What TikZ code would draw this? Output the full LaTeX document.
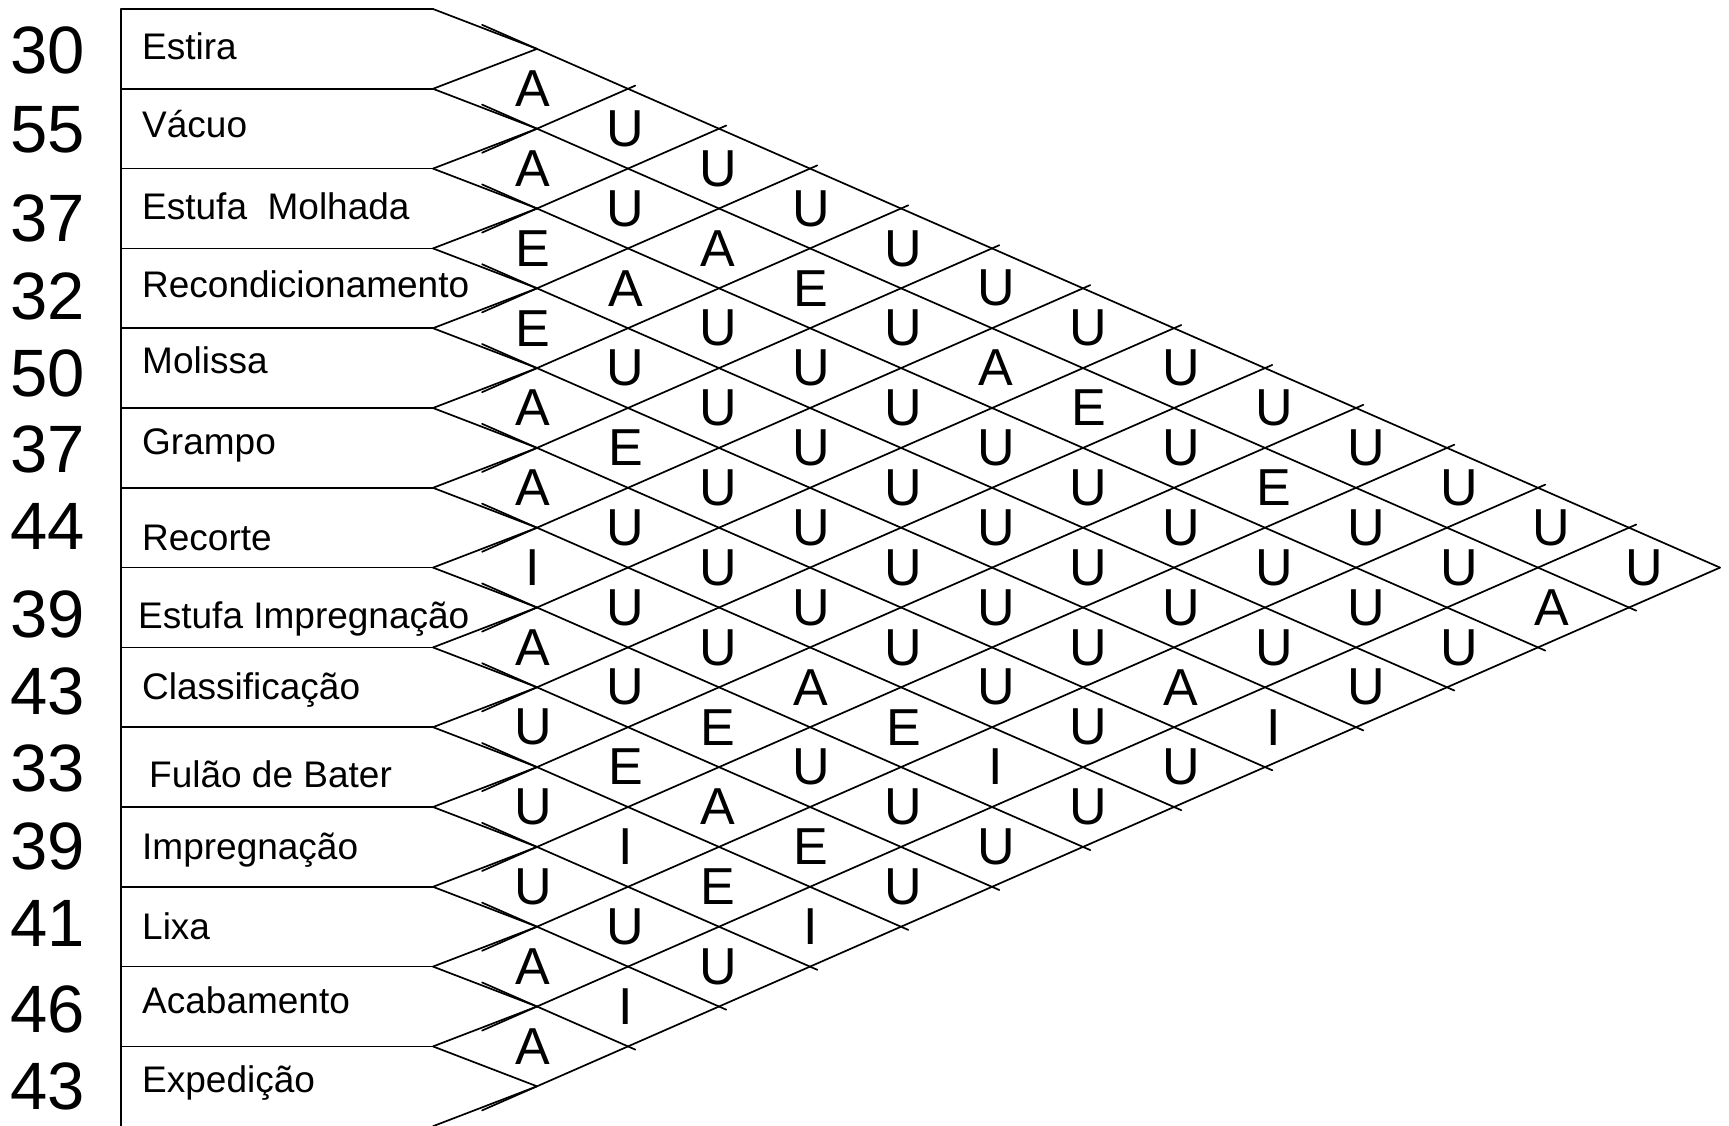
\documentclass[tikz,border=0pt]{standalone}
\usepackage{fontspec}
\setmainfont{Liberation Sans}
\begin{document}
\begin{tikzpicture}[x=1pt,y=-1pt,
  ln/.style={line width=1.7pt, line cap=round, line join=round},
  num/.style={font=\fontsize{67}{67}\selectfont, anchor=center, inner sep=0pt},
  lab/.style={font=\fontsize{37}{37}\selectfont, anchor=base west, inner sep=0pt},
  rel/.style={font=\fontsize{52}{52}\selectfont, anchor=center, inner sep=0pt}]
\useasboundingbox (0,0) rectangle (1729,1126);
\def\T{537}\def\B{433}\def\W{91}\def\H{79.8}\def\Y{9}\def\L{121}
% row boundaries, box corners, tips
\foreach \k in {0,...,14}{
  \coordinate (c\k) at (\B,{\Y+\H*\k});
  \coordinate (l\k) at (\L,{\Y+\H*\k});
}
\foreach \i in {0,...,13}{
  \coordinate (t\i) at (\T,{\Y+\H*(\i+0.5)});
}
% grid end points on bottom edge (e) and top edge (u)
\foreach \i in {0,...,13}{
  \pgfmathsetmacro\ex{\T+(13-\i)*\W}
  \pgfmathsetmacro\ey{\Y+\H*((\i+13)/2+0.5)}
  \coordinate (e\i) at (\ex,\ey);
  \pgfmathsetmacro\ux{\T+\i*\W}
  \pgfmathsetmacro\uy{\Y+\H*(\i/2+0.5)}
  \coordinate (u\i) at (\ux,\uy);
}
% left frame
\draw[ln] (l0) -- (l14);
\foreach \k in {0,...,13}{ \draw[ln] (l\k) -- (c\k); }
% pointed ends of the department boxes
\foreach \i in {0,...,13}{
  \pgfmathtruncatemacro\j{\i+1}
  \draw[ln] (c\i) -- (t\i) -- (c\j);
}
% triangle edges
\draw[ln, shorten <=-60pt] (t0) -- (e0);
\draw[ln, shorten <=-60pt] (t13) -- (u13);
% inner grid lines
\foreach \i in {1,...,12}{
  \draw[ln, shorten <=-60pt, shorten >=-8pt] (t\i) -- (e\i);
  \draw[ln, shorten <=-60pt, shorten >=-8pt] (t\i) -- (u\i);
}
% numbers
\foreach \i/\y/\n in {0/50.7/30,1/130/55,2/218/37,3/296/32,4/373/50,5/449/37,6/526/44,7/614/39,8/691/43,9/768/33,10/846/39,11/923/41,12/1009/46,13/1086/43}{
  \node[num] (n\i) at (48,\y) {\n};
}
% department names
\node[lab] (d0) at (142,59.3) {Estira};
\node[lab] (d1) at (142,138) {Vácuo};
\node[lab] (d2) at (142,219) {Estufa\ \ Molhada};
\node[lab] (d3) at (142,297.7) {Recondicionamento};
\node[lab] (d4) at (142,373.6) {Molissa};
\node[lab] (d5) at (142,454) {Grampo};
\node[lab] (d6) at (142,550) {Recorte};
\node[lab] (d7) at (138,628) {Estufa Impregnação};
\node[lab] (d8) at (142,699) {Classificação};
\node[lab] (d9) at (149,787.7) {Fulão de Bater};
\node[lab] (d10) at (142,859) {Impregnação};
\node[lab] (d11) at (142,939) {Lixa};
\node[lab] (d12) at (142,1013) {Acabamento};
\node[lab] (d13) at (142,1092) {Expedição};
% relationship letters
\foreach \i/\j/\r in {
 0/1/A,0/2/U,0/3/U,0/4/U,0/5/U,0/6/U,0/7/U,0/8/U,0/9/U,0/10/U,0/11/U,0/12/U,0/13/U,
 1/2/A,1/3/U,1/4/A,1/5/E,1/6/U,1/7/A,1/8/E,1/9/U,1/10/E,1/11/U,1/12/U,1/13/A,
 2/3/E,2/4/A,2/5/U,2/6/U,2/7/U,2/8/U,2/9/U,2/10/U,2/11/U,2/12/U,2/13/U,
 3/4/E,3/5/U,3/6/U,3/7/U,3/8/U,3/9/U,3/10/U,3/11/U,3/12/U,3/13/U,
 4/5/A,4/6/E,4/7/U,4/8/U,4/9/U,4/10/U,4/11/U,4/12/A,4/13/I,
 5/6/A,5/7/U,5/8/U,5/9/U,5/10/U,5/11/U,5/12/U,5/13/U,
 6/7/I,6/8/U,6/9/U,6/10/A,6/11/E,6/12/I,6/13/U,
 7/8/A,7/9/U,7/10/E,7/11/U,7/12/U,7/13/U,
 8/9/U,8/10/E,8/11/A,8/12/E,8/13/U,
 9/10/U,9/11/I,9/12/E,9/13/I,
 10/11/U,10/12/U,10/13/U,
 11/12/A,11/13/I,
 12/13/A}{
  \pgfmathsetmacro\rx{533+(\j-\i-1)*92.6}
  \pgfmathsetmacro\ry{\Y+\H*((\i+\j)/2+0.5)}
  \node[rel] (r\i-\j) at (\rx,\ry) {\r};
}
\end{tikzpicture}
\end{document}
